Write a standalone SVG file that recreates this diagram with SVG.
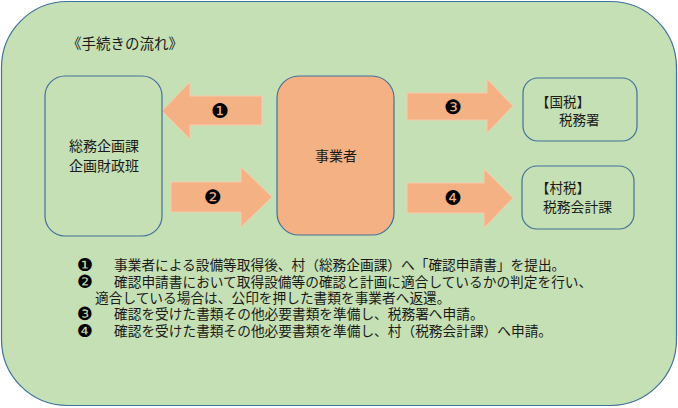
<svg xmlns="http://www.w3.org/2000/svg" width="678" height="408" viewBox="0 0 678 408">
<style>
.box{stroke:#41719C;stroke-width:1.2}
.arrow{fill:#F4B183;stroke:#F8CBAD;stroke-width:1}
.t{font-family:"Noto Sans CJK JP","Noto Sans CJK SC",sans-serif;fill:#1a1a1a}
.b{font-family:"DejaVu Sans",sans-serif;fill:#000;text-anchor:middle}
</style>
<rect x="1.5" y="1.5" width="675" height="404" rx="66" ry="66" fill="#C5E0B4" stroke="#41719C" stroke-width="1.2"/>
<text class="t" x="67" y="49" font-size="14.5">《手続きの流れ》</text>
<g id="connectors">
  <g id="arrow1"><polygon class="arrow" points="162,111 190,82 190,96 262,96 262,125 190,125 190,139"/><text class="b" x="220" y="118" font-size="20">❶</text></g>
  <g id="arrow2"><polygon class="arrow" points="171,182 241,182 241,167 272,197 241,227 241,212 171,212"/><text class="b" x="213" y="204" font-size="20">❷</text></g>
  <g id="arrow3"><polygon class="arrow" points="407,93 487,93 487,79 513,106 487,133 487,120 407,120"/><text class="b" x="453" y="114" font-size="20">❸</text></g>
  <g id="arrow4"><polygon class="arrow" points="407,183 484,183 484,169 513,198 484,228 484,213 407,213"/><text class="b" x="453" y="205" font-size="20">❹</text></g>
</g>
<g id="somu">
  <rect class="box" x="45" y="76" width="117" height="160" rx="20" fill="#C5E0B4"/>
  <text class="t" x="104" y="151" font-size="14" text-anchor="middle">総務企画課<tspan x="104" y="171">企画財政班</tspan></text>
</g>
<g id="jigyosha">
  <rect class="box" x="277" y="76" width="117" height="159" rx="22" fill="#F4B183"/>
  <text class="t" x="336" y="161" font-size="14" text-anchor="middle">事業者</text>
</g>
<g id="zeimusho">
  <rect class="box" x="523" y="78" width="114" height="63" rx="15" fill="#C5E0B4"/>
  <text class="t" x="536" y="107" font-size="13.5">【国税】<tspan x="559" y="125">税務署</tspan></text>
</g>
<g id="zeimukaikei">
  <rect class="box" x="522" y="166" width="112" height="63" rx="15" fill="#C5E0B4"/>
  <text class="t" x="536" y="193" font-size="13.5">【村税】<tspan x="543" y="212" font-size="13.8">税務会計課</tspan></text>
</g>
<g id="notes">
  <text font-size="13.7" class="t"><tspan class="b" font-size="18" x="85" y="271">❶</tspan><tspan x="114" y="270">事業者による設備等取得後、村（総務企画課）へ「確認申請書」を提出。</tspan><tspan class="b" font-size="18" x="85" y="288">❷</tspan><tspan x="114" y="287">確認申請書において取得設備等の確認と計画に適合しているかの判定を行い、</tspan><tspan x="95" y="303">適合している場合は、公印を押した書類を事業者へ返還。</tspan><tspan class="b" font-size="18" x="85" y="320">❸</tspan><tspan x="114" y="319">確認を受けた書類その他必要書類を準備し、税務署へ申請。</tspan><tspan class="b" font-size="18" x="85" y="337">❹</tspan><tspan x="114" y="336">確認を受けた書類その他必要書類を準備し、村（税務会計課）へ申請。</tspan></text>
</g>
</svg>
